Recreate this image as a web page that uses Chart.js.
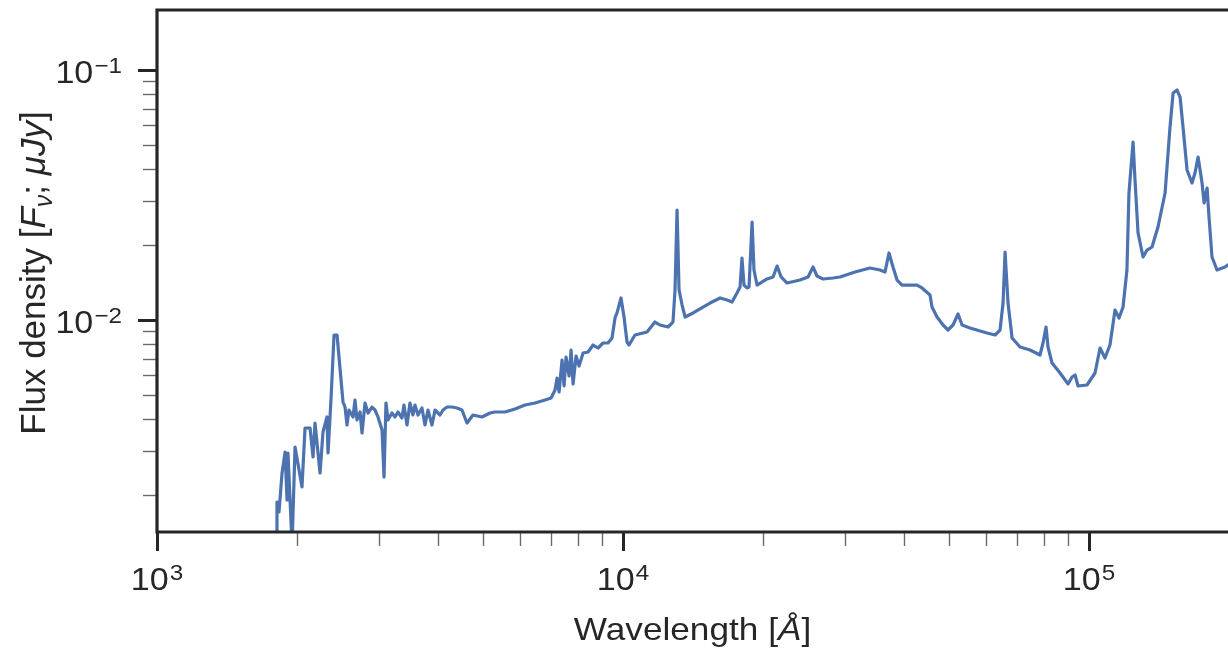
<!DOCTYPE html>
<html>
<head>
<meta charset="utf-8">
<script src="https://cdn.jsdelivr.net/npm/chart.js@4.4.0/dist/chart.umd.min.js"></script>
<style>
  html, body { margin: 0; padding: 0; background: #fff; }
  #wrap { width: 1228px; height: 654px; position: relative; }
</style>
</head>
<body>
<div id="wrap"><canvas id="sed"></canvas></div>
<script>
// spectrum: wavelength [Angstrom], flux density [uJy]
const wavelength = [
  1805, 1809, 1827, 1855, 1883, 1901, 1910, 1949, 1978, 2047,
  2078, 2130, 2162, 2183, 2238, 2271, 2316, 2328, 2362, 2398,
  2434, 2507, 2532, 2557, 2582, 2634, 2660, 2686, 2727, 2754,
  2795, 2837, 2893, 2936, 2980, 3040, 3070, 3100, 3131, 3193,
  3241, 3289, 3355, 3388, 3439, 3490, 3542, 3577, 3631, 3703,
  3759, 3815, 3891, 3950, 4049, 4109, 4192, 4296, 4404, 4512,
  4626, 4765, 4982, 5184, 5313, 5583, 5865, 6162, 6475, 6803,
  7008, 7148, 7219, 7291, 7400, 7473, 7547, 7660, 7736, 7813,
  7929, 8048, 8209, 8414, 8624, 8839, 9060, 9286, 9472, 9612,
  9708, 9902, 10050, 10200, 10300, 10610, 11260, 11710, 12000, 12490,
  12800, 12930, 13060, 13190, 13390, 13590, 14140, 14850, 15370, 16160,
  16720, 17140, 17560, 17830, 18000, 18180, 18450, 18640, 18920, 19100,
  19390, 20370, 20990, 21410, 21840, 22490, 23980, 24950, 25570, 26080,
  26870, 28220, 29220, 31470, 33880, 35600, 36490, 37220, 37960, 38730,
  39690, 42740, 43810, 45580, 46030, 47190, 48610, 49820, 51070, 52350,
  53400, 55550, 58370, 60420, 62860, 64420, 65390, 66040, 67020, 68370,
  71110, 74710, 78490, 79660, 80850, 81660, 83290, 86650, 90150, 91940,
  93330, 94710, 99010, 103000, 105600, 108200, 110900, 113700, 116000, 118300,
  120600, 121800, 124300, 125500, 127400, 130600, 133200, 136500, 140600, 145600,
  149200, 151500, 154500, 156800, 159100, 162300, 166300, 168800, 171400, 174800,
  176600, 179200, 180900, 183600, 188200, 195800, 202700
];
const flux = [
  0.001318, 0.001871, 0.001706, 0.002443, 0.002965, 0.001905, 0.002938, 0.001259, 0.003105, 0.002148,
  0.003698, 0.003698, 0.002831, 0.003873, 0.002443, 0.003565, 0.004093, 0.002938, 0.004786, 0.008710,
  0.008710, 0.004699, 0.004487, 0.003802, 0.004365, 0.004093, 0.004786, 0.003981, 0.004285, 0.003532,
  0.004656, 0.004246, 0.004487, 0.004365, 0.004093, 0.003631, 0.002355, 0.004656, 0.003981, 0.004246,
  0.004093, 0.004285, 0.004055, 0.004571, 0.003802, 0.004656, 0.004169, 0.004571, 0.004169, 0.004446,
  0.003802, 0.004365, 0.003802, 0.004365, 0.004169, 0.004365, 0.004487, 0.004487, 0.004446, 0.004365,
  0.003873, 0.004169, 0.004093, 0.004246, 0.004285, 0.004285, 0.004406, 0.004571, 0.004656, 0.004786,
  0.004875, 0.005248, 0.005861, 0.005152, 0.006918, 0.005445, 0.007112, 0.005970, 0.007586, 0.005546,
  0.007178, 0.006546, 0.007379, 0.007447, 0.007943, 0.007727, 0.008091, 0.008091, 0.008472, 0.01019,
  0.01067, 0.01225, 0.01028, 0.008166, 0.007943, 0.008710, 0.008954, 0.009817, 0.009550, 0.009376,
  0.009817, 0.01318, 0.02754, 0.01318, 0.01148, 0.01028, 0.01067, 0.01127, 0.01169, 0.01225,
  0.01202, 0.01180, 0.01282, 0.01355, 0.01770, 0.01380, 0.01343, 0.01355, 0.02466, 0.01585,
  0.01380, 0.01459, 0.01486, 0.01644, 0.01486, 0.01406, 0.01445, 0.01486, 0.01629, 0.01500,
  0.01459, 0.01472, 0.01486, 0.01556, 0.01614, 0.01585, 0.01556, 0.01854, 0.01629, 0.01445,
  0.01380, 0.01380, 0.01343, 0.01259, 0.01127, 0.01028, 0.009550, 0.009120, 0.009550, 0.01057,
  0.009550, 0.009290, 0.009036, 0.008872, 0.008710, 0.009120, 0.01169, 0.01871, 0.01169, 0.008472,
  0.007798, 0.007586, 0.007244, 0.008091, 0.009376, 0.007798, 0.006730, 0.006138, 0.005546, 0.005916,
  0.006026, 0.005445, 0.005495, 0.006138, 0.007727, 0.007047, 0.007943, 0.01096, 0.01019, 0.01127,
  0.01585, 0.03221, 0.05152, 0.03631, 0.02228, 0.01786, 0.01905, 0.01959, 0.02355, 0.03221,
  0.05916, 0.08091, 0.08318, 0.07798, 0.05916, 0.03981, 0.03532, 0.03873, 0.04487, 0.03532,
  0.02938, 0.03373, 0.02582, 0.01786, 0.01585, 0.01629, 0.01706
];

// visible ranges and labelled decades (exponents of ten)
const xRange = [1000, 198700];
const yRange = [0.001419, 0.1738];
const xDecades = [3, 4, 5];
const yDecades = [-2, -1];

const xTitle = 'Wavelength';
const yTitle = 'Flux density';

const ink = '#262626';
const lineBlue = '#4c72b0';
const face = '"Liberation Sans", Arial, sans-serif';
const stretch = 1.1;   // the figure is a little wider than tall

// every 1..9 x 10^n inside a range
function logTicks(lo, hi) {
  const out = [];
  for (let e = Math.floor(Math.log10(lo)); e <= Math.ceil(Math.log10(hi)); e++) {
    for (let k = 1; k <= 9; k++) {
      const v = k * Math.pow(10, e);
      if (v >= lo * 0.9999 && v <= hi * 1.0001) out.push({ v, major: k === 1 });
    }
  }
  return out;
}

// "10" with a raised exponent
function powLabel(ctx, exp, x, y, align) {
  const sup = exp < 0 ? '\u2212' + Math.abs(exp) : String(exp);
  ctx.font = '31px ' + face;
  const wb = ctx.measureText('10').width;
  ctx.font = '22px ' + face;
  const ws = ctx.measureText(sup).width;
  const total = (wb + ws + 1) * stretch;
  const x0 = align === 'right' ? x - total : x - total / 2;
  ctx.save();
  ctx.translate(x0, y);
  ctx.scale(stretch, 1);
  ctx.fillStyle = ink;
  ctx.textBaseline = 'alphabetic';
  ctx.textAlign = 'left';
  ctx.font = '31px ' + face;
  ctx.fillText('10', 0, 0);
  ctx.font = '22px ' + face;
  ctx.fillText(sup, wb + 1, -10);
  ctx.restore();
}

// runs of text with their own font and vertical shift
function richText(ctx, parts, size) {
  let w = 0;
  parts.forEach(p => {
    ctx.font = (p.italic ? 'italic ' : '') + Math.round(size * (p.scale || 1)) + 'px ' + face;
    p.w = ctx.measureText(p.t).width;
    w += p.w;
  });
  let u = -w / 2;
  parts.forEach(p => {
    ctx.font = (p.italic ? 'italic ' : '') + Math.round(size * (p.scale || 1)) + 'px ' + face;
    ctx.fillText(p.t, u, (p.dy || 0) * size);
    u += p.w;
  });
}

const axesPlugin = {
  id: 'mplAxes',
  beforeDraw(chart) {
    const { ctx } = chart;
    ctx.save();
    ctx.fillStyle = '#fff';
    ctx.fillRect(0, 0, chart.width, chart.height);
    ctx.restore();
  },
  afterDatasetsDraw(chart) {
    const { ctx, chartArea: a, scales: { x, y } } = chart;
    ctx.save();

    // tick marks, outside the frame
    logTicks(xRange[0], xRange[1]).forEach(t => {
      const px = Math.round(x.getPixelForValue(t.v)) + 0.5;
      ctx.beginPath();
      ctx.strokeStyle = t.major ? ink : '#6a6a6a';
      ctx.lineWidth = t.major ? 3 : 1.4;
      ctx.moveTo(px, a.bottom);
      ctx.lineTo(px, a.bottom + (t.major ? 19 : 14));
      ctx.stroke();
    });
    logTicks(yRange[0], yRange[1]).forEach(t => {
      const py = Math.round(y.getPixelForValue(t.v)) + 0.5;
      ctx.beginPath();
      ctx.strokeStyle = t.major ? ink : '#6a6a6a';
      ctx.lineWidth = t.major ? 3 : 1.4;
      ctx.moveTo(a.left, py);
      ctx.lineTo(a.left - (t.major ? 19 : 14), py);
      ctx.stroke();
    });

    // frame: left, top, bottom (right edge falls outside the picture)
    ctx.strokeStyle = ink;
    ctx.lineWidth = 3.2;
    ctx.lineCap = 'square';
    ctx.beginPath();
    ctx.moveTo(chart.width + 5, a.top);
    ctx.lineTo(a.left, a.top);
    ctx.lineTo(a.left, a.bottom);
    ctx.lineTo(chart.width + 5, a.bottom);
    ctx.stroke();

    // decade labels
    xDecades.forEach(e => powLabel(ctx, e, x.getPixelForValue(Math.pow(10, e)), a.bottom + 58, 'center'));
    yDecades.forEach(e => powLabel(ctx, e, a.left - 35, y.getPixelForValue(Math.pow(10, e)) + 13, 'right'));

    // axis titles
    ctx.fillStyle = ink;
    ctx.textAlign = 'left';
    ctx.textBaseline = 'alphabetic';
    ctx.save();
    ctx.translate((a.left + a.right) / 2, 640);
    ctx.scale(stretch, 1);
    richText(ctx, [
      { t: xTitle + ' [' },
      { t: '\u00c5', italic: true },
      { t: ']' }
    ], 32);
    ctx.restore();

    ctx.save();
    ctx.translate(45, (a.top + a.bottom) / 2 + 2);
    ctx.scale(1.02, 1);
    ctx.rotate(-Math.PI / 2);
    richText(ctx, [
      { t: yTitle + ' [' },
      { t: 'F', italic: true },
      { t: '\u03bd', italic: true, scale: 0.7, dy: 0.2 },
      { t: '; ' },
      { t: '\u03bcJy', italic: true },
      { t: ']' }
    ], 35);
    ctx.restore();

    ctx.restore();
  }
};

const points = wavelength.map((w, i) => ({ x: w, y: flux[i] }));

new Chart(document.getElementById('sed'), {
  type: 'line',
  data: {
    datasets: [{
      data: points,
      borderColor: lineBlue,
      borderWidth: 3.2,
      borderJoinStyle: 'round',
      borderCapStyle: 'round',
      pointRadius: 0,
      tension: 0,
      fill: false
    }]
  },
  options: {
    responsive: true,
    maintainAspectRatio: false,
    animation: false,
    parsing: false,
    layout: { padding: { left: 157, top: 10, right: 0, bottom: 122 } },
    plugins: { legend: { display: false }, tooltip: { enabled: false } },
    scales: {
      x: { type: 'logarithmic', min: xRange[0], max: xRange[1], bounds: 'data', display: false },
      y: { type: 'logarithmic', min: yRange[0], max: yRange[1], bounds: 'data', display: false }
    }
  },
  plugins: [axesPlugin]
});
</script>
</body>
</html>
